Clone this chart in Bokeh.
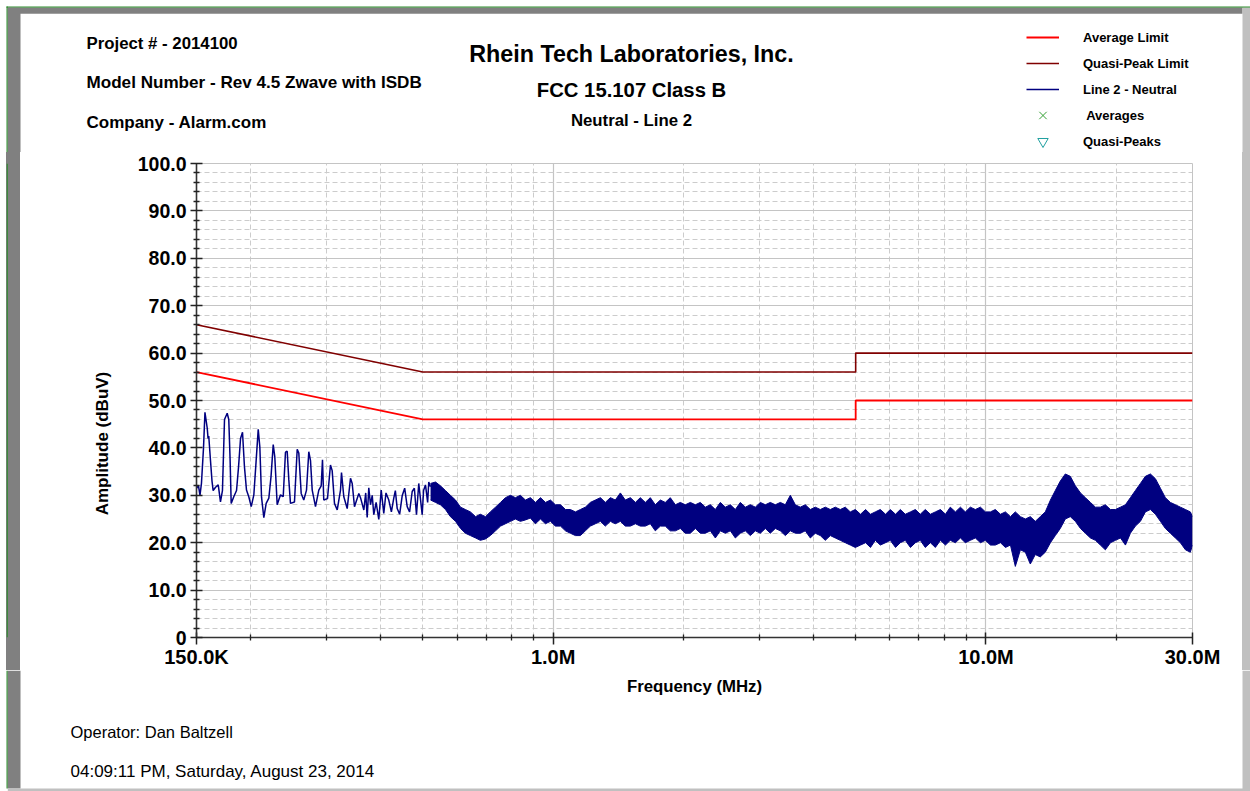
from bokeh.plotting import figure
from bokeh.layouts import column, row
from bokeh.models import Range1d, FixedTicker, Legend, LegendItem, Spacer
from bokeh.core.properties import value
from bokeh.embed import file_html
from bokeh.resources import INLINE
import math

FONT = "Liberation Sans"

# ---------------- data ----------------
qp_freq = [0.15, 0.5, 5.0, 5.0, 30.0]
qp_level = [66.0, 56.0, 56.0, 60.0, 60.0]
avg_freq = [0.15, 0.5, 5.0, 5.0, 30.0]
avg_level = [56.0, 46.0, 46.0, 50.0, 50.0]

# measured trace, low-frequency part (MHz, dBuV)
lf_freq = [0.1500, 0.1516, 0.1528, 0.1540, 0.1557, 0.1569, 0.1588, 0.1595, 0.1601, 0.1616,
           0.1629, 0.1639, 0.1660, 0.1684, 0.1704, 0.1722, 0.1741, 0.1766, 0.1781, 0.1793,
           0.1804, 0.1829, 0.1856, 0.1876, 0.1896, 0.1916, 0.1936, 0.1957, 0.1981, 0.2007,
           0.2035, 0.2059, 0.2083, 0.2101, 0.2120, 0.2146, 0.2173, 0.2204, 0.2230, 0.2256,
           0.2275, 0.2304, 0.2345, 0.2379, 0.2408, 0.2430, 0.2451, 0.2473, 0.2526, 0.2563,
           0.2585, 0.2618, 0.2654, 0.2693, 0.2726, 0.2751, 0.2776, 0.2825, 0.2875, 0.2912,
           0.2932, 0.2952, 0.3011, 0.3059, 0.3087, 0.3125, 0.3171, 0.3227, 0.3244, 0.3284,
           0.3344, 0.3403, 0.3434, 0.3476, 0.3557, 0.3589, 0.3653, 0.3690, 0.3719, 0.3751,
           0.3785, 0.3820, 0.3852, 0.3900, 0.3956, 0.4007, 0.4062, 0.4110, 0.4172, 0.4230,
           0.4284, 0.4320, 0.4363, 0.4420, 0.4480, 0.4540, 0.4601, 0.4660, 0.4725, 0.4780,
           0.4834, 0.4893, 0.4983, 0.5020, 0.5071, 0.5130, 0.5160, 0.5208]
lf_level = [31.5, 32.0, 30.0, 32.5, 40.0, 47.5, 44.2, 42.0, 42.5, 37.3,
            33.0, 31.0, 31.7, 32.2, 28.6, 31.0, 46.0, 47.3, 46.0, 38.0,
            28.3, 29.7, 31.0, 36.0, 42.0, 43.3, 36.0, 31.1, 29.7, 27.6,
            30.1, 37.0, 43.9, 40.2, 29.6, 25.3, 28.3, 29.4, 34.0, 40.7,
            38.1, 28.0, 30.1, 29.7, 39.1, 39.3, 33.3, 28.3, 28.6, 39.7,
            38.9, 30.4, 29.0, 31.1, 39.2, 37.3, 31.1, 27.6, 31.1, 32.0,
            37.5, 29.0, 29.3, 36.4, 35.2, 28.3, 26.9, 31.1, 34.8, 29.7,
            27.2, 33.6, 32.5, 27.6, 30.4, 29.5, 26.9, 30.5, 25.3, 31.6,
            28.0, 30.0, 25.9, 28.5, 24.9, 31.1, 26.2, 30.5, 29.0, 26.5,
            29.4, 31.0, 27.2, 26.0, 29.9, 31.5, 27.6, 26.5, 30.8, 31.5,
            25.9, 32.5, 25.9, 31.0, 32.2, 28.5, 32.8, 31.8]

# measured trace, dense part: envelope of the noise band (MHz, dBuV)
hf_freq = [0.521, 0.535, 0.549, 0.564, 0.579, 0.595, 0.611, 0.627, 0.644, 0.662,
           0.679, 0.698, 0.716, 0.736, 0.756, 0.776, 0.797, 0.818, 0.840, 0.863,
           0.886, 0.910, 0.935, 0.960, 0.986, 1.012, 1.040, 1.068, 1.096, 1.126,
           1.156, 1.187, 1.219, 1.252, 1.286, 1.320, 1.356, 1.392, 1.430, 1.468,
           1.508, 1.549, 1.590, 1.633, 1.677, 1.722, 1.769, 1.816, 1.865, 1.916,
           1.967, 2.020, 2.075, 2.131, 2.188, 2.247, 2.308, 2.370, 2.434, 2.499,
           2.567, 2.636, 2.707, 2.780, 2.855, 2.932, 3.011, 3.092, 3.175, 3.261,
           3.349, 3.439, 3.532, 3.627, 3.724, 3.825, 3.928, 4.034, 4.142, 4.254,
           4.369, 4.486, 4.607, 4.731, 4.859, 4.99, 5.13, 5.27, 5.41, 5.55,
           5.70, 5.86, 6.01, 6.18, 6.34, 6.51, 6.69, 6.87, 7.05, 7.24,
           7.44, 7.64, 7.85, 8.06, 8.27, 8.50, 8.73, 8.96, 9.20, 9.45,
           9.71, 9.97, 10.24, 10.51, 10.80, 11.09, 11.39, 11.69, 12.01, 12.33,
           12.66, 13.00, 13.35, 13.71, 14.09, 14.46, 14.85, 15.25, 15.66, 16.09,
           16.53, 16.97, 17.43, 17.90, 18.38, 18.87, 19.39, 19.91, 20.45, 21.00,
           21.56, 22.14, 22.74, 23.35, 23.98, 24.63, 25.29, 25.97, 26.67, 27.39,
           28.13, 28.89, 29.66, 30.0]
hf_upper = [32.5, 32.8, 32.0, 31.0, 30.0, 29.0, 27.5, 27.0, 26.5, 25.5,
            26.0, 25.5, 26.5, 27.5, 28.5, 29.5, 30.0, 29.5, 30.0, 29.0,
            29.5, 28.5, 29.5, 28.5, 29.0, 28.0, 28.0, 27.0, 27.0, 26.5,
            27.0, 27.5, 28.5, 29.0, 29.5, 28.5, 29.5, 29.0, 30.5, 29.0,
            29.5, 28.5, 29.5, 28.5, 29.5, 28.0, 29.0, 28.5, 29.5, 28.0,
            28.5, 28.0, 28.5, 28.0, 28.5, 27.5, 28.0, 27.0, 28.5, 27.5,
            28.0, 27.0, 28.5, 27.5, 28.0, 27.5, 28.5, 28.0, 28.5, 28.0,
            28.5, 28.0, 30.0, 28.0, 27.5, 28.0, 27.0, 27.5, 27.0, 27.5,
            27.0, 27.5, 27.0, 27.5, 26.5, 27.0, 26.0, 27.0, 26.0, 26.5,
            27.0, 26.0, 27.0, 26.0, 27.0, 26.0, 26.5, 27.0, 26.0, 27.0,
            26.0, 26.5, 27.0, 26.0, 27.5, 26.5, 27.5, 26.5, 27.5, 27.0,
            27.5, 26.5, 26.5, 27.0, 26.0, 26.5, 25.5, 26.5, 25.5, 25.0,
            25.5, 24.5, 25.5, 26.5, 29.0, 31.0, 33.0, 34.5, 34.0, 32.0,
            30.5, 29.5, 28.5, 27.5, 27.5, 28.0, 27.0, 27.0, 27.5, 28.0,
            29.5, 31.0, 32.5, 34.0, 34.5, 33.5, 31.5, 29.5, 28.5, 28.0,
            27.5, 27.0, 26.5, 25.5]
hf_lower = [29.0, 28.5, 28.0, 27.0, 25.5, 24.5, 23.0, 22.0, 21.5, 21.0,
            20.5, 20.8, 21.5, 22.5, 23.5, 24.0, 24.5, 25.0, 24.5, 24.8,
            25.2, 24.0, 25.0, 24.0, 24.5, 23.5, 23.5, 22.5, 22.0, 21.5,
            21.5, 22.5, 23.5, 24.0, 24.5, 23.5, 24.5, 24.0, 24.5, 23.5,
            23.5, 24.0, 23.5, 23.5, 24.0, 22.5, 23.5, 23.5, 22.5, 22.5,
            23.0, 22.0, 22.0, 23.0, 22.0, 22.0, 22.5, 21.0, 22.5, 22.0,
            22.5, 21.0, 22.0, 22.5, 21.5, 22.5, 22.0, 23.0, 22.0, 23.0,
            22.5, 21.5, 22.5, 22.0, 22.0, 22.5, 21.0, 22.0, 21.5, 20.5,
            21.5, 21.0, 20.5, 20.0, 19.5, 19.0, 19.5, 20.0, 19.0, 20.5,
            19.5, 20.0, 20.5, 19.0, 20.0, 20.5, 19.0, 20.0, 20.5, 19.0,
            20.0, 19.0, 20.5, 19.5, 20.5, 20.0, 21.0, 20.0, 20.5, 21.0,
            20.0, 20.5, 19.5, 19.5, 20.0, 19.0, 19.5, 15.0, 18.5, 18.0,
            15.5, 17.5, 17.0, 18.0, 20.0, 21.5, 23.0, 25.0, 25.5, 24.5,
            23.0, 22.0, 21.0, 20.5, 19.5, 18.5, 20.0, 20.5, 21.0, 19.5,
            22.0, 23.5, 24.5, 26.5, 27.0, 26.0, 24.5, 23.0, 22.0, 21.0,
            20.0, 18.5, 18.0, 19.5]

# measured points (none shown in the chart)
averages_freq = []
averages_level = []
qpeaks_freq = []
qpeaks_level = []

x_ticks = [0.15, 1.0, 10.0, 30.0]
x_tick_labels = ["150.0K", "1.0M", "10.0M", "30.0M"]
x_minor = [0.2, 0.3, 0.4, 0.5, 0.6, 0.7, 0.8, 0.9, 2, 3, 4, 5, 6, 7, 8, 9, 20]
y_ticks = [0, 10, 20, 30, 40, 50, 60, 70, 80, 90, 100]
y_tick_labels = ["0", "10.0", "20.0", "30.0", "40.0", "50.0", "60.0", "70.0", "80.0", "90.0", "100.0"]
y_minor = [v for v in range(0, 101, 2) if v % 10]

legend_labels = ["Average Limit", "Quasi-Peak Limit", "Line 2 - Neutral", " Averages", "Quasi-Peaks"]

NAVY = "#000080"
RED = "#ff0000"
DARKRED = "#800000"
GREEN = "#33a033"
TEAL = "#20a0a0"
DARKGRAY = "#808080"
LIGHTGRAY = "#c0c0c0"
BORDERGREEN = "#2e8b2e"
NAN = float("nan")

W, H = 1250, 791
HEAD_H = 152
MAIN_H = 670 - HEAD_H
FOOT_H = H - HEAD_H - MAIN_H
F_TOP, F_BOT = 163, 637          # chart frame, page pixels
F_LEFT, F_RIGHT = 196, 1192
BORDER_T = F_TOP - HEAD_H
BORDER_B = HEAD_H + MAIN_H - F_BOT
GAP_W, BAR_W, SIDE_W, RBAR_W = 6, 14, 100, 8
MAIN_X0 = GAP_W + BAR_W + SIDE_W
MAIN_W = W - MAIN_X0 - RBAR_W


def panel(w, h, x0, y0, bg="white"):
    f = figure(width=w, height=h, x_range=Range1d(x0, x0 + w), y_range=Range1d(y0 + h, y0),
               min_border=0, x_axis_location=None, y_axis_location=None,
               toolbar_location=None, output_backend="svg", outline_line_color=None,
               background_fill_color=bg, border_fill_color=bg)
    f.grid.visible = False
    return f


def row_panel(w, x0, bg="white", css_bg=None):
    # same top/bottom borders as the chart, so the row keeps its frames aligned
    kw = {}
    if css_bg is not None:
        kw["styles"] = {"background-color": css_bg}
    f = figure(width=w, height=MAIN_H, x_range=Range1d(x0, x0 + w),
               y_range=Range1d(F_BOT, F_TOP),
               min_border_left=0, min_border_right=0, min_border_top=BORDER_T,
               min_border_bottom=BORDER_B, x_axis_location=None, y_axis_location=None,
               toolbar_location=None, output_backend="svg", outline_line_color=None,
               background_fill_color=bg, border_fill_color=bg, **kw)
    f.grid.visible = False
    return f


def txt(f, s, x, y, size, bold=True, align="left", angle=0.0):
    f.text(x=[x], y=[y], text=[s], text_font=value(FONT), text_font_size=size,
           text_font_style="bold" if bold else "normal", text_align=align,
           text_baseline="middle", angle=angle, text_color="#000000")


def bar(f, l, r, t, b, color):
    f.quad(left=[l], right=[r], top=[t], bottom=[b], fill_color=color, line_color=None)


# ---------------- header ----------------
head = panel(W, HEAD_H, 0, 0)
bar(head, 6, W, 6, 7.3, BORDERGREEN)
bar(head, 6, 7.3, 6, HEAD_H, BORDERGREEN)
bar(head, 7.3, 1242, 7.3, 13.3, DARKGRAY)
bar(head, 7.3, 20, 7.3, HEAD_H, DARKGRAY)
bar(head, 1242, W, 7.3, HEAD_H, LIGHTGRAY)
txt(head, "Project # - 2014100", 86, 43, "16.8px")
txt(head, "Model Number - Rev 4.5 Zwave with ISDB", 86, 82, "17.1px")
txt(head, "Company - Alarm.com", 86, 122, "17px")
txt(head, "Rhein Tech Laboratories, Inc.", 631, 53, "23.3px", align="center")
txt(head, "FCC 15.107 Class B", 631, 89, "20.3px", align="center")
txt(head, "Neutral - Line 2", 631, 120, "16.8px", align="center")

# legend keys: same styles as the series of the chart (no visible marks here)
k_avg = head.line([NAN], [NAN], line_color=RED, line_width=1.8)
k_qp = head.line([NAN], [NAN], line_color=DARKRED, line_width=1.6)
k_tr = head.line([NAN], [NAN], line_color=NAVY, line_width=1.4)
k_avgs = head.scatter([NAN], [NAN], marker="x", size=14, line_color=GREEN, line_width=1)
k_qps = head.scatter([NAN], [NAN], marker="inverted_triangle", size=14, line_color=TEAL,
                     fill_color=None, line_width=1)
ITEM_H = 26
legend_h = 5 * ITEM_H
legend_top = 37 - ITEM_H / 2
legend = Legend(items=[LegendItem(label=lbl, renderers=[r]) for lbl, r in
                       zip(legend_labels, [k_avg, k_qp, k_tr, k_avgs, k_qps])],
                location=(1026, HEAD_H - (legend_top + legend_h)), orientation="vertical",
                label_text_font=FONT, label_text_font_style="bold",
                label_text_font_size="13px", label_text_color="#000000",
                glyph_width=33, glyph_height=ITEM_H, label_height=ITEM_H, label_standoff=24,
                spacing=0, padding=0, margin=0, border_line_color=None,
                background_fill_alpha=0)
head.add_layout(legend)

# ---------------- window frame strips and y-axis title ----------------
gap = Spacer(width=GAP_W, height=MAIN_H)
barfig = row_panel(BAR_W, GAP_W, bg=DARKGRAY, css_bg=DARKGRAY)
bar(barfig, 6, 7.3, F_BOT, F_TOP, BORDERGREEN)
side = row_panel(SIDE_W, GAP_W + BAR_W)
txt(side, "Amplitude (dBuV)", 102, 443, "17px", align="center", angle=math.pi / 2)
rbar = row_panel(RBAR_W, W - RBAR_W, bg=LIGHTGRAY, css_bg=LIGHTGRAY)

# ---------------- main chart ----------------
p = figure(x_axis_type="log", x_range=Range1d(0.15, 30.0), y_range=Range1d(0, 100),
           width=MAIN_W, height=MAIN_H,
           min_border_left=F_LEFT - MAIN_X0, min_border_right=(MAIN_X0 + MAIN_W) - F_RIGHT,
           min_border_top=BORDER_T, min_border_bottom=BORDER_B,
           output_backend="svg", toolbar_location=None,
           background_fill_color="white", border_fill_color="white",
           outline_line_color="#c4c4c4", outline_line_width=1)

p.xaxis.ticker = FixedTicker(ticks=x_ticks, minor_ticks=x_minor)
p.yaxis.ticker = FixedTicker(ticks=y_ticks, minor_ticks=y_minor)
for g in (p.xgrid, p.ygrid):
    g.grid_line_color = "#c4c4c4"
    g.grid_line_width = 1.2
    g.minor_grid_line_color = "#cccccc"
    g.minor_grid_line_dash = "5 3"
    g.minor_grid_line_width = 1

for ax in (p.xaxis, p.yaxis):
    ax.axis_line_color = "#333333"
    ax.axis_line_width = 1.6
    ax.major_tick_line_color = "#222222"
    ax.minor_tick_line_color = "#222222"
    ax.major_tick_line_width = 1.5
    ax.minor_tick_line_width = 1.3
    ax.major_label_text_font = FONT
    ax.major_label_text_font_style = "bold"
    ax.major_label_text_color = "#000000"
    ax.major_label_text_line_height = 1.0
p.xaxis.major_label_overrides = {t: s for t, s in zip(x_ticks, x_tick_labels)}
p.yaxis.major_label_overrides = {t: s for t, s in zip(y_ticks, y_tick_labels)}
p.xaxis.major_label_text_font_size = "20px"
p.yaxis.major_label_text_font_size = "19.5px"
p.yaxis.major_tick_in = 6
p.yaxis.major_tick_out = 6
p.yaxis.minor_tick_in = 3
p.yaxis.minor_tick_out = 3
p.yaxis.major_label_standoff = 4
p.xaxis.major_tick_in = 5
p.xaxis.major_tick_out = 7
p.xaxis.minor_tick_in = 3
p.xaxis.minor_tick_out = 3
p.xaxis.major_label_standoff = 1

p.varea(x=hf_freq, y1=hf_lower, y2=hf_upper, fill_color=NAVY, fill_alpha=1)
p.line(hf_freq, hf_upper, line_color=NAVY, line_width=1)
p.line(hf_freq, hf_lower, line_color=NAVY, line_width=1)
p.line(lf_freq, lf_level, line_color=NAVY, line_width=1.5)
p.line(qp_freq, qp_level, line_color=DARKRED, line_width=1.6)
p.line(avg_freq, avg_level, line_color=RED, line_width=1.8)
p.scatter(averages_freq, averages_level, marker="x", size=14, line_color=GREEN, line_width=1)
p.scatter(qpeaks_freq, qpeaks_level, marker="inverted_triangle", size=14,
          line_color=TEAL, fill_color=None, line_width=1)

# ---------------- footer ----------------
foot = panel(W, FOOT_H, 0, HEAD_H + MAIN_H)
y0 = HEAD_H + MAIN_H
bar(foot, 6, 7.3, y0, 788, BORDERGREEN)
bar(foot, 7.3, 20, y0, 788, DARKGRAY)
bar(foot, 1242, W, y0, H, LIGHTGRAY)
bar(foot, 7.3, W, 788, H, LIGHTGRAY)
txt(foot, "Frequency (MHz)", 694, 686, "16.8px", align="center")
txt(foot, "Operator: Dan Baltzell", 70, 731, "16.5px", bold=False)
txt(foot, "04:09:11 PM, Saturday, August 23, 2014", 70, 771, "17px", bold=False)

mid = row(gap, barfig, side, p, rbar, spacing=0)
layout = column(head, mid, foot, spacing=0)
open("out.html", "w").write(file_html(layout, INLINE))
